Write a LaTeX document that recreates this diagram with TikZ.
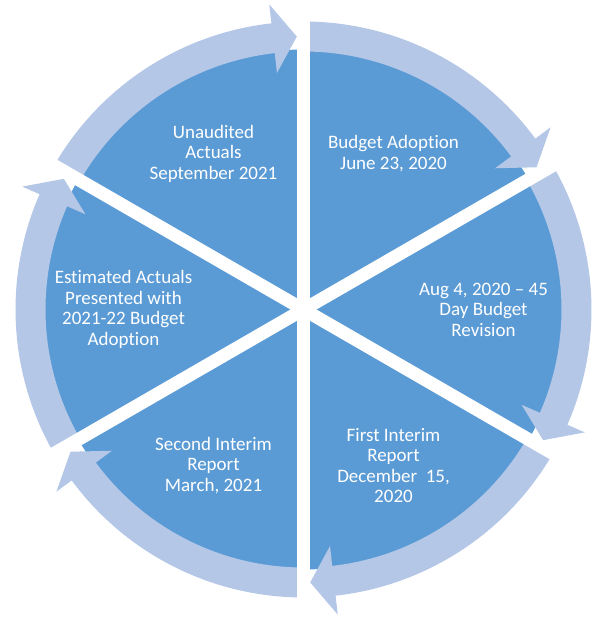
\documentclass[tikz,border=0pt]{standalone}
\usepackage{fontspec}
\setmainfont[Ligatures={NoCommon}]{Carlito}
\usepackage{xcolor}
\usepackage{tikz}
\definecolor{pieblue}{HTML}{5B9BD5}
\definecolor{ringblue}{HTML}{B4C7E7}
\tikzset{
    every node/.style={font=\fontsize{19}{20.5}\selectfont, text=white, align=center},
    ringarrow/.style={fill=ringblue},
    gapline/.style={draw=white, line width=13pt}
}

\begin{document}
\begin{tikzpicture}[x=1pt,y=1pt]
    \useasboundingbox (-303.5,-309.5) rectangle (289.5,309.5);
    \coordinate (o) at (0,0);

    % Draw the pie
    \fill[pieblue] (o) circle (260);

    % Draw the ring arrows, clockwise
    \foreach \a/\b in {150/90, 90/30, 30/-30, -30/-90, -90/-150, 210/150} {
        \pgfmathsetmacro{\t}{\b+1.4}
        \pgfmathsetmacro{\h}{\b+6.4}
        \fill[ringarrow] (\a:258) arc[start angle=\a, end angle=\h, radius=258]
            -- (\h:238) -- (\t:273) -- (\h:307) -- (\h:288)
            arc[start angle=\h, end angle=\a, radius=288] -- cycle;
    }

    % Draw the gaps between the parts
    \foreach \g in {90, 30, -30, -90, -150, 150} {
        \draw[gapline] (o) -- (\g:320);
    }

    % Labels
    \node (unaudited) at (120:180) {Unaudited\\Actuals\\September 2021};
    \node (adoption) at (60:180) {Budget Adoption\\June 23, 2020};
    \node (revision) at (0:180) {Aug 4, 2020 -- 45\\Day Budget\\Revision};
    \node (firstint) at (-60:180) {First Interim\\Report\\December\ \ 15,\\2020};
    \node (secondint) at (-120:180) {Second Interim\\Report\\March, 2021};
    \node (estimated) at (180:180) {Estimated Actuals\\Presented with\\2021-22 Budget\\Adoption};
\end{tikzpicture}
\end{document}
